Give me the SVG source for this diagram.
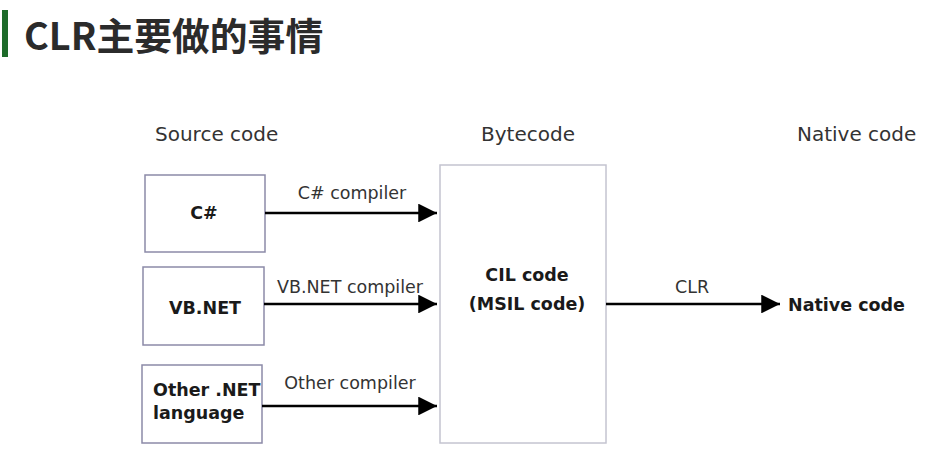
<svg xmlns="http://www.w3.org/2000/svg" width="925" height="465" viewBox="0 0 925 465">
<defs>
<style>
.t{font-family:"DejaVu Sans","Noto Sans",sans-serif;fill:#333}
.h{font-size:20px}
.c{font-size:17.5px}
.b{font-family:"DejaVu Sans","Noto Sans",sans-serif;font-weight:bold;font-size:17.5px;fill:#1a1a1a}
.box{fill:#fff;stroke:#8c8aa8;stroke-width:1.5}
.big{fill:#fff;stroke:#c4c4d0;stroke-width:1.5}
.ln{stroke:#000;stroke-width:2.5;fill:none}
</style>
<marker id="ah" viewBox="0 0 10 10" refX="10" refY="5" markerWidth="7.5" markerHeight="7.5" markerUnits="strokeWidth" orient="auto">
<path d="M0,0 L10,5 L0,10 Z" fill="#000"/>
</marker>
</defs>
<rect width="925" height="465" fill="#fff"/>
<g id="title">
<rect x="2" y="10" width="6" height="47" fill="#1e6b2a"/>
<text x="24" y="50" font-family="'Noto Sans CJK SC','Noto Sans',sans-serif" font-weight="bold" font-size="37.8" fill="#2b2b2b">CLR主要做的事情</text>
</g>
<g id="headings">
<text class="t h" x="155" y="141">Source code</text>
<text class="t h" x="481" y="141">Bytecode</text>
<text class="t h" x="797" y="141">Native code</text>
</g>
<g id="node-csharp">
<rect class="box" x="145" y="175" width="120" height="77"/>
<text class="b" x="204" y="219" text-anchor="middle">C#</text>
</g>
<g id="node-vbnet">
<rect class="box" x="143" y="267" width="121" height="78"/>
<text class="b" x="205" y="314" text-anchor="middle">VB.NET</text>
</g>
<g id="node-other">
<rect class="box" x="142" y="365" width="120" height="78"/>
<text class="b" x="153" y="396">Other .NET</text>
<text class="b" x="153" y="419">language</text>
</g>
<g id="node-cil">
<rect class="big" x="440" y="165" width="166" height="278"/>
<text class="b" x="527" y="281" text-anchor="middle">CIL code</text>
<text class="b" x="527" y="310" text-anchor="middle">(MSIL code)</text>
</g>
<g id="node-native">
<text class="b" x="788" y="311">Native code</text>
</g>
<g id="connectors">
<line class="ln" x1="265" y1="213" x2="437" y2="213" marker-end="url(#ah)"/>
<line class="ln" x1="264" y1="304" x2="437" y2="304" marker-end="url(#ah)"/>
<line class="ln" x1="262" y1="406" x2="437" y2="406" marker-end="url(#ah)"/>
<line class="ln" x1="606" y1="304" x2="780" y2="304" marker-end="url(#ah)"/>
<text class="t c" x="352" y="199" text-anchor="middle">C# compiler</text>
<text class="t c" x="350" y="293" text-anchor="middle">VB.NET compiler</text>
<text class="t c" x="350" y="389" text-anchor="middle">Other compiler</text>
<text class="t c" x="692" y="293" text-anchor="middle">CLR</text>
</g>
</svg>
